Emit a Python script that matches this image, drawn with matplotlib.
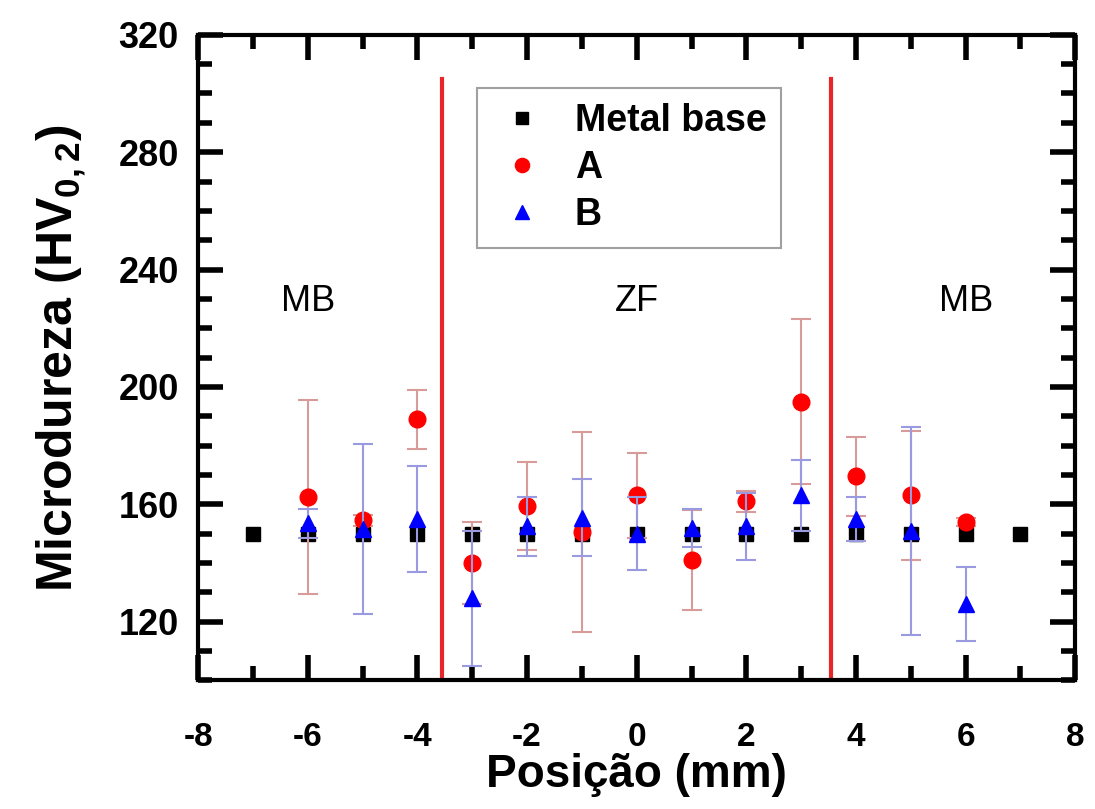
#!/usr/bin/env python
# Microhardness profile across the weld: metal base, A and B

import matplotlib
matplotlib.use("Agg")
import matplotlib.pyplot as plt
from matplotlib.ticker import MultipleLocator

plt.rcParams["font.family"] = ["Liberation Sans", "DejaVu Sans"]
plt.rcParams["axes.unicode_minus"] = False
plt.rcParams["mathtext.fontset"] = "custom"
plt.rcParams["mathtext.rm"] = "Liberation Sans:bold"
plt.rcParams["mathtext.bf"] = "Liberation Sans:bold"

# data
pos_base = [-7, -6, -5, -4, -3, -2, -1, 0, 1, 2, 3, 4, 5, 6, 7]
hv_base = [150, 150, 150, 150, 150, 150, 150, 150, 150, 150, 150, 150, 150, 150, 150]

pos_ab = [-6, -5, -4, -3, -2, -1, 0, 1, 2, 3, 4, 5, 6]
hv_a = [162.5, 154.5, 189, 140, 159.5, 150.5, 163, 141, 161, 195, 169.5, 163, 154]
err_a = [33, 2, 10, 14, 15, 34, 14.5, 17, 3.5, 28, 13.5, 22, 1.5]
hv_b = [153.5, 151.5, 155, 128, 152.5, 155.5, 150, 152, 152.5, 163, 155, 151, 126]
err_b = [5, 29, 18, 23, 10, 13, 12.5, 6.5, 11.5, 12, 7.5, 35.5, 12.5]

zone_limits = [-3.55, 3.55]
zone_names = ["MB", "ZF", "MB"]
zone_x = [-6, 0, 6]

fig = plt.figure(figsize=(10.95, 8.09), dpi=100, facecolor="white")
ax = fig.add_axes([0.181, 0.159, 0.801, 0.798])

# zone boundaries
for xl in zone_limits:
    ax.plot([xl, xl], [100, 305], color="#e8262a", lw=3, zorder=2)

h_base, = ax.plot(pos_base, hv_base, ls="none", marker="s", ms=10,
                  color="black", zorder=3)
eb_a = ax.errorbar(pos_ab, hv_a, yerr=err_a, fmt="o", ms=12, color="red",
                   ecolor="#d99a9a", elinewidth=1.5, capsize=7, capthick=1.5,
                   zorder=4)
eb_b = ax.errorbar(pos_ab, hv_b, yerr=err_b, fmt="^", ms=12, color="blue",
                   ecolor="#9a9ae0", elinewidth=1.5, capsize=7, capthick=1.5,
                   zorder=5)

for name, xz in zip(zone_names, zone_x):
    ax.text(xz, 229, name, ha="center", va="center", fontsize=26)

ax.set_xlim(-8, 8)
ax.set_ylim(100, 320)
ax.xaxis.set_major_locator(MultipleLocator(2))
ax.xaxis.set_minor_locator(MultipleLocator(1))
ax.yaxis.set_minor_locator(MultipleLocator(10))
ax.set_yticks([120, 160, 200, 240, 280, 320])

ax.tick_params(which="both", direction="in", top=True, right=True)
ax.tick_params(axis="x", which="major", pad=30, labelsize=24)
ax.tick_params(axis="y", which="major", pad=14, labelsize=26)
ax.tick_params(which="major", length=18, width=4)
ax.tick_params(which="minor", length=10, width=4)
for lab in ax.get_xticklabels() + ax.get_yticklabels():
    lab.set_fontweight("bold")
for sp in ax.spines.values():
    sp.set_linewidth(3)

ax.set_xlabel("Posição (mm)", fontsize=33, fontweight="bold", labelpad=0)
ax.set_ylabel(r"Microdureza (HV$_{\mathbf{0,2}}$)", fontsize=36,
              fontweight="bold", labelpad=22)

leg = ax.legend([h_base, eb_a[0], eb_b[0]], ["Metal base", "A", "B"],
                loc="upper left", bbox_to_anchor=(0.318, 0.918),
                prop={"weight": "bold", "size": 27},
                frameon=True, fancybox=False, edgecolor="#888888",
                borderpad=0.4, handletextpad=0.6, labelspacing=0.3,
                handlelength=1.6, markerscale=0.85, borderaxespad=0)
leg.get_frame().set_linewidth(1.5)

fig.savefig("out.png", dpi=100)
